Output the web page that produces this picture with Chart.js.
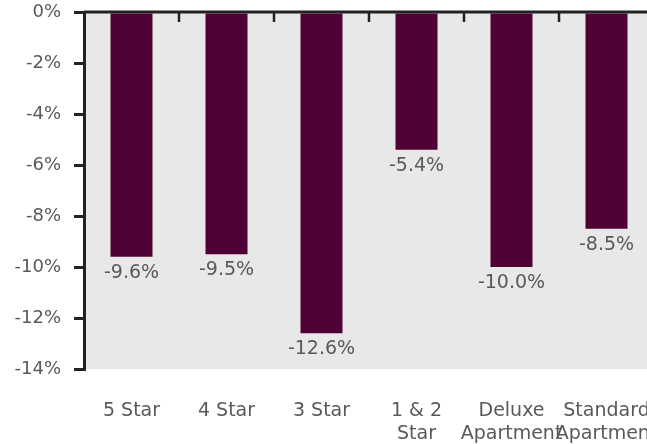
<!DOCTYPE html>
<html>
<head>
<meta charset="utf-8">
<script src="https://cdn.jsdelivr.net/npm/chart.js@4.4.1/dist/chart.umd.min.js"></script>
<style>
  html, body { margin: 0; padding: 0; background: #fff; overflow: hidden; }
  body { width: 647px; height: 444px; position: relative; }
  #wrap { position: absolute; left: 11px; top: 0; width: 643px; height: 444px; }
</style>
</head>
<body>
<div id="wrap"><canvas id="chart"></canvas></div>
<script>
  const categories = [
    "5 Star",
    "4 Star",
    "3 Star",
    ["1 & 2", "Star"],
    ["Deluxe", "Apartment"],
    ["Standard", "Apartment"],
  ];
  const changes = [-9.6, -9.5, -12.6, -5.4, -10.0, -8.5];
  const yMin = -14;
  const yMax = 0;
  const yStep = 2;

  const BAR = "#4f0035";
  const PANEL = "#e8e8e8";
  const AXIS = "#222222";
  const TEXT = "#595959";
  const FONT = "'DejaVu Sans', sans-serif";

  // grey panel behind the bars
  const panel = {
    id: "panel",
    beforeDraw(chart) {
      const { ctx, chartArea: a } = chart;
      ctx.save();
      ctx.fillStyle = PANEL;
      ctx.fillRect(a.left, a.top, a.right - a.left, a.bottom - a.top);
      ctx.restore();
    },
  };

  // zero line along the top with inward ticks between categories
  const zeroAxis = {
    id: "zeroAxis",
    afterDatasetsDraw(chart) {
      const { ctx, chartArea: a, scales } = chart;
      const x = scales.x;
      const y0 = scales.y.getPixelForValue(0);
      ctx.save();
      ctx.strokeStyle = AXIS;
      ctx.lineWidth = 3;
      ctx.beginPath();
      ctx.moveTo(a.left, y0);
      ctx.lineTo(a.right + 20, y0);
      ctx.stroke();
      ctx.lineWidth = 2.5;
      for (let i = 1; i < categories.length; i++) {
        const bx = (x.getPixelForValue(i - 1) + x.getPixelForValue(i)) / 2;
        ctx.beginPath();
        ctx.moveTo(bx, y0);
        ctx.lineTo(bx, y0 + 10);
        ctx.stroke();
      }
      ctx.restore();
    },
  };

  // value labels just below each bar end
  const valueLabels = {
    id: "valueLabels",
    afterDatasetsDraw(chart) {
      const { ctx } = chart;
      const meta = chart.getDatasetMeta(0);
      ctx.save();
      ctx.fillStyle = TEXT;
      ctx.font = `19px ${FONT}`;
      ctx.textAlign = "center";
      ctx.textBaseline = "middle";
      meta.data.forEach((bar, i) => {
        ctx.fillText(`${changes[i].toFixed(1)}%`, bar.x, bar.y + 16);
      });
      ctx.restore();
    },
  };

  new Chart(document.getElementById("chart"), {
    type: "bar",
    data: {
      labels: categories,
      datasets: [{
        data: changes,
        backgroundColor: BAR,
        categoryPercentage: 1,
        barPercentage: 42 / 95,
      }],
    },
    options: {
      responsive: true,
      maintainAspectRatio: false,
      animation: false,
      layout: { padding: 0 },
      plugins: {
        legend: { display: false },
        tooltip: { enabled: false },
      },
      scales: {
        x: {
          position: "bottom",
          grid: { display: false },
          border: { display: false },
          ticks: {
            color: TEXT,
            font: { family: FONT, size: 19 },
            padding: 23,
            maxRotation: 0,
            minRotation: 0,
            autoSkip: false,
          },
          afterFit(scale) {
            scale.height = 75;
            scale.paddingLeft = 0;
            scale.paddingRight = 0;
          },
        },
        y: {
          min: yMin,
          max: yMax,
          grid: {
            drawOnChartArea: false,
            color: AXIS,
            lineWidth: 3,
            tickLength: 10,
          },
          border: { display: true, color: AXIS, width: 3 },
          ticks: {
            stepSize: yStep,
            color: TEXT,
            font: { family: FONT, size: 18 },
            padding: 13,
            callback: (v) => `${v}%`,
          },
          afterFit(scale) {
            scale.width = 73;
            scale.paddingTop = 12;
            scale.paddingBottom = 0;
          },
        },
      },
    },
    plugins: [panel, zeroAxis, valueLabels],
  });
</script>
</body>
</html>
